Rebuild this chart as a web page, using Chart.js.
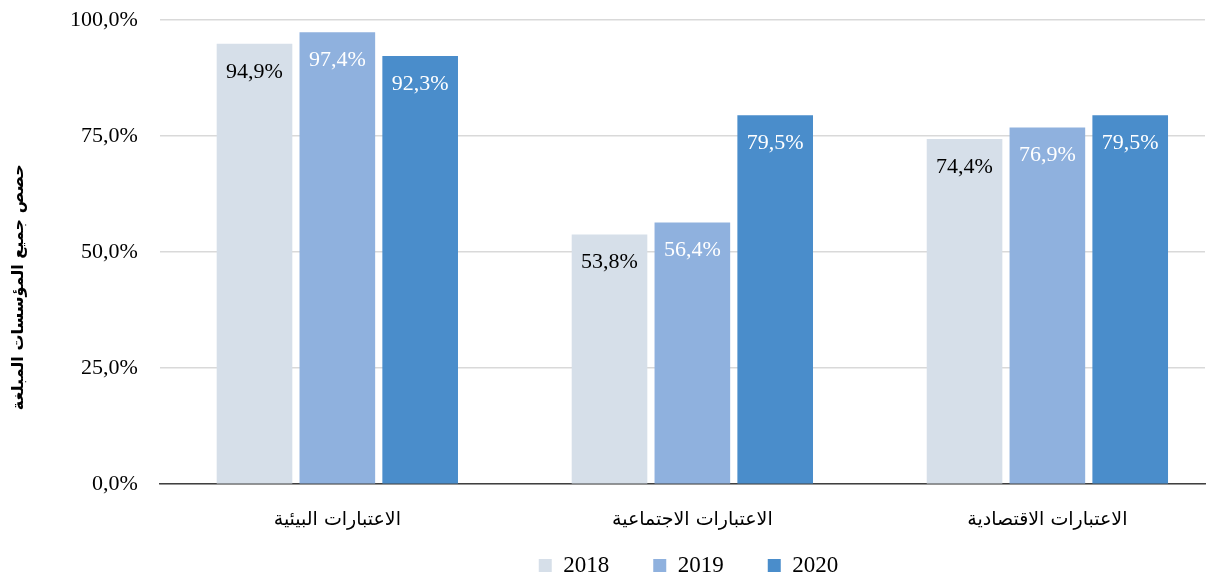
<!DOCTYPE html>
<html>
<head>
<meta charset="utf-8">
<script src="https://cdn.jsdelivr.net/npm/chart.js@4/dist/chart.umd.min.js"></script>
<style>
  html, body { margin: 0; padding: 0; background: #fff; overflow: hidden; }
  #wrap { width: 1217px; height: 602px; margin-top: -15px; }
</style>
</head>
<body>
<div id="wrap"><canvas id="c"></canvas></div>
<script>
let categories = ['الاعتبارات البيئية', 'الاعتبارات الاجتماعية', 'الاعتبارات الاقتصادية']
let years = ['2018', '2019', '2020']
let values2018 = [94.9, 53.8, 74.4]
let values2019 = [97.4, 56.4, 76.9]
let values2020 = [92.3, 79.5, 79.5]
let yTicks = [0, 25, 50, 75, 100]
let yTitle = 'حصص جميع المؤسسات المبلغة'

let colours = ['#d6dfe9', '#8fb1de', '#4a8dcb']
let labelColours = ['#000000', '#ffffff', '#ffffff']
let serif = '"Liberation Serif", "Times New Roman", serif'
let arabic = '"DejaVu Sans", sans-serif'
let legendTrim = 45
let legendShift = 62
// in the original the category bands run past the right end of the gridlines
let xSpan = 2.944

function fmt(v) {
  return v.toFixed(1).replace('.', ',') + '%'
}

// draw the value inside each bar, near its top
let barLabels = {
  id: 'barLabels',
  afterDatasetsDraw(chart) {
    let ctx = chart.ctx
    ctx.save()
    ctx.font = '22px ' + serif
    ctx.textAlign = 'center'
    ctx.textBaseline = 'middle'
    chart.data.datasets.forEach((ds, i) => {
      chart.getDatasetMeta(i).data.forEach((bar, j) => {
        ctx.fillStyle = labelColours[i]
        ctx.fillText(fmt(ds.data[j]), bar.x, bar.y + 28)
      })
    })
    ctx.restore()
  }
}

// y title sits a bit below the middle of the axis in the original
let sideTitle = {
  id: 'sideTitle',
  afterDraw(chart) {
    let ctx = chart.ctx
    let area = chart.chartArea
    ctx.save()
    ctx.translate(19, (area.top + area.bottom) / 2 + 35)
    ctx.rotate(-Math.PI / 2)
    ctx.font = 'bold 16px ' + arabic
    ctx.fillStyle = '#000'
    ctx.textAlign = 'center'
    ctx.textBaseline = 'middle'
    ctx.fillText(yTitle, 0, 0)
    ctx.restore()
  }
}

// legend padding is wide between items; take back some of its vertical room
let legendSqueeze = {
  id: 'legendSqueeze',
  beforeInit(chart) {
    let legend = chart.legend
    let fit = legend.fit
    legend.fit = function() {
      fit.call(this)
      this.height -= legendTrim
    }
  },
  afterLayout(chart) {
    let lg = chart.legend
    lg.top -= legendTrim
    lg.height += legendTrim
    lg.left += legendShift
    lg.right += legendShift
  }
}

let datasets = [values2018, values2019, values2020].map((vals, i) => ({
  label: years[i],
  data: vals,
  backgroundColor: colours[i],
  borderWidth: 0,
  barPercentage: 0.913,
  categoryPercentage: 0.7,
}))

new Chart(document.getElementById('c'), {
  type: 'bar',
  data: { labels: categories, datasets: datasets },
  plugins: [barLabels, sideTitle, legendSqueeze],
  options: {
    responsive: true,
    maintainAspectRatio: false,
    animation: false,
    layout: { padding: { left: 48, right: 12, top: 0, bottom: 0 } },
    plugins: {
      tooltip: { enabled: false },
      legend: {
        position: 'bottom',
        labels: {
          boxWidth: 13,
          boxHeight: 13,
          padding: 44,
          color: '#000',
          font: { family: serif, size: 23 },
        },
      },
    },
    scales: {
      x: {
        afterBuildTicks(axis) {
          axis._startValue = -0.5
          axis._valueRange = xSpan
        },
        grid: { display: false, drawTicks: false },
        border: { color: '#404040', width: 1.5 },
        ticks: {
          padding: 24,
          color: '#000',
          font: { family: arabic, size: 19 },
        },
      },
      y: {
        min: 0,
        max: 100,
        afterBuildTicks(axis) {
          axis.ticks = yTicks.map(v => ({ value: v }))
        },
        grid: { color: '#d9d9d9', lineWidth: 1.5, drawTicks: false },
        border: { display: false },
        ticks: {
          padding: 22,
          color: '#000',
          font: { family: serif, size: 22 },
          callback: v => fmt(v),
        },
      },
    },
  },
})
</script>
</body>
</html>
